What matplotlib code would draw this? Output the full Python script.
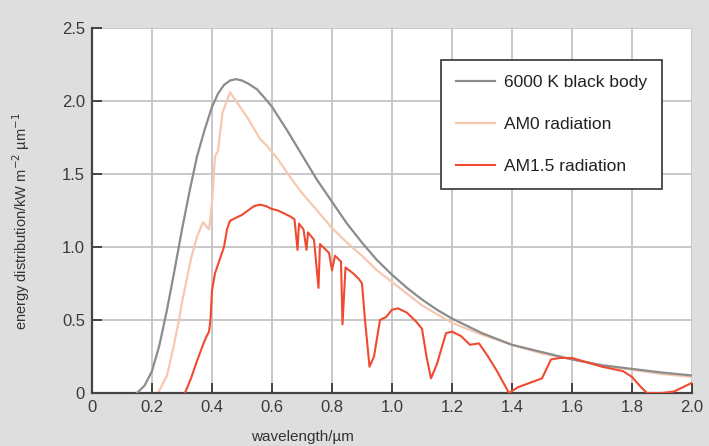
import matplotlib
matplotlib.use("Agg")
import matplotlib.pyplot as plt

plt.rcParams['font.family'] = ['Liberation Sans', 'DejaVu Sans']

# 6000 K black body
bb_x = [0.15, 0.175, 0.20, 0.225, 0.25, 0.275, 0.30, 0.325, 0.35, 0.375, 0.40, 0.42, 0.44,
        0.46, 0.48, 0.50, 0.52, 0.55, 0.58, 0.60, 0.65, 0.70, 0.75, 0.80, 0.85, 0.90, 0.95,
        1.00, 1.05, 1.10, 1.15, 1.20, 1.30, 1.40, 1.50, 1.60, 1.70, 1.80, 1.90, 2.00]
bb_y = [0.0, 0.05, 0.15, 0.33, 0.57, 0.84, 1.12, 1.38, 1.62, 1.80, 1.96, 2.05, 2.11,
        2.14, 2.15, 2.14, 2.12, 2.08, 2.01, 1.96, 1.80, 1.63, 1.46, 1.31, 1.16, 1.03, 0.91,
        0.81, 0.72, 0.64, 0.57, 0.51, 0.41, 0.33, 0.28, 0.23, 0.19, 0.165, 0.14, 0.12]

# AM0 radiation
am0_x = [0.22, 0.25, 0.27, 0.29, 0.30, 0.33, 0.35, 0.37, 0.39, 0.40, 0.41, 0.42, 0.435, 0.46,
         0.49, 0.52, 0.56, 0.58, 0.62, 0.66, 0.70, 0.75, 0.80, 0.85, 0.90, 0.95, 1.00, 1.05,
         1.10, 1.15, 1.20, 1.30, 1.40, 1.50, 1.60, 1.70, 1.80, 1.90, 2.00]
am0_y = [0.0, 0.12, 0.30, 0.50, 0.62, 0.92, 1.07, 1.17, 1.12, 1.30, 1.62, 1.66, 1.92, 2.06,
         1.97, 1.88, 1.74, 1.70, 1.60, 1.48, 1.37, 1.25, 1.13, 1.03, 0.94, 0.84, 0.76, 0.68,
         0.60, 0.54, 0.48, 0.40, 0.33, 0.27, 0.23, 0.19, 0.16, 0.13, 0.11]

# AM1.5 radiation
am15_x = [0.31, 0.33, 0.35, 0.37, 0.38, 0.39, 0.395, 0.40, 0.41, 0.42, 0.44, 0.45, 0.46, 0.48,
          0.50, 0.52, 0.54, 0.56, 0.58, 0.60, 0.62, 0.64, 0.66, 0.675, 0.685, 0.69, 0.705,
          0.715, 0.72, 0.74, 0.755, 0.76, 0.79, 0.80, 0.81, 0.83, 0.835, 0.845, 0.87, 0.89,
          0.90, 0.91, 0.925, 0.94, 0.96, 0.98, 1.00, 1.02, 1.05, 1.08, 1.10, 1.115, 1.13,
          1.15, 1.18, 1.20, 1.23, 1.26, 1.29, 1.32, 1.35, 1.39, 1.42, 1.46, 1.50, 1.53, 1.56,
          1.60, 1.65, 1.70, 1.77, 1.80, 1.83, 1.85, 1.90, 1.94, 1.97, 2.00]
am15_y = [0.0, 0.10, 0.22, 0.33, 0.38, 0.42, 0.50, 0.70, 0.82, 0.88, 1.00, 1.12, 1.18, 1.20,
          1.22, 1.25, 1.28, 1.29, 1.28, 1.26, 1.25, 1.23, 1.21, 1.19, 0.98, 1.16, 1.12,
          0.98, 1.10, 1.05, 0.72, 1.02, 0.96, 0.84, 0.94, 0.90, 0.47, 0.86, 0.82, 0.78,
          0.75, 0.50, 0.18, 0.25, 0.50, 0.52, 0.57, 0.58, 0.55, 0.49, 0.44, 0.25, 0.10,
          0.20, 0.41, 0.42, 0.39, 0.33, 0.34, 0.25, 0.15, 0.0, 0.04, 0.07, 0.10, 0.23, 0.24,
          0.24, 0.21, 0.18, 0.15, 0.11, 0.04, 0.0, 0.0, 0.01, 0.04, 0.07]

x_ticks = [0, 0.2, 0.4, 0.6, 0.8, 1.0, 1.2, 1.4, 1.6, 1.8, 2.0]
x_labels = ["0", "0.2", "0.4", "0.6", "0.8", "1.0", "1.2", "1.4", "1.6", "1.8", "2.0"]
y_ticks = [0, 0.5, 1.0, 1.5, 2.0, 2.5]
y_labels = ["0", "0.5", "1.0", "1.5", "2.0", "2.5"]

fig = plt.figure(figsize=(7.09, 4.46), dpi=100, facecolor="#dedede")
ax = fig.add_axes([92/709, 1-393/446, 600/709, 365/446])
ax.set_facecolor("white")

ax.plot(bb_x, bb_y, color="#8c8c8c", lw=1.6, label="6000 K black body", zorder=3)
ax.plot(am0_x, am0_y, color="#f6c8b0", lw=1.6, label="AM0 radiation", zorder=2)
ax.plot(am15_x, am15_y, color="#f04a30", lw=1.5, label="AM1.5 radiation", zorder=4)

ax.set_xlim(0, 2.0)
ax.set_ylim(0, 2.5)
ax.set_xticks(x_ticks)
ax.set_xticklabels(x_labels)
ax.set_yticks(y_ticks)
ax.set_yticklabels(y_labels)
ax.grid(True, color="#c4c4c4", lw=1.3)
ax.set_axisbelow(True)

for s in ["top", "right"]:
    ax.spines[s].set_visible(False)
for s in ["left", "bottom"]:
    ax.spines[s].set_color("#444444")
    ax.spines[s].set_linewidth(1.6)

ax.tick_params(direction="in", length=7, width=1.4, color="#444444",
               labelsize=12, labelcolor="#3a3a3a", pad=5)

ax.set_xlabel("wavelength/µm", fontsize=11, color="#333333")
ax.xaxis.set_label_coords(0.35, -0.1)
ax.set_ylabel("energy distribution/kW m$^{-2}$ µm$^{-1}$", fontsize=10.5, color="#333333")
ax.yaxis.set_label_coords(-0.1, 0.47)

leg = ax.legend(loc="upper right", bbox_to_anchor=(0.95, 0.912), fontsize=12.5,
                frameon=True, fancybox=False, edgecolor="#333333", handlelength=2.3,
                labelspacing=1.55, borderpad=0.85, handletextpad=0.5, borderaxespad=0)
leg.get_frame().set_linewidth(1.2)
leg.get_frame().set_facecolor("white")
leg.get_frame().set_alpha(1.0)
for t in leg.get_texts():
    t.set_color("#222222")

fig.savefig("out.png", dpi=100, facecolor=fig.get_facecolor())
